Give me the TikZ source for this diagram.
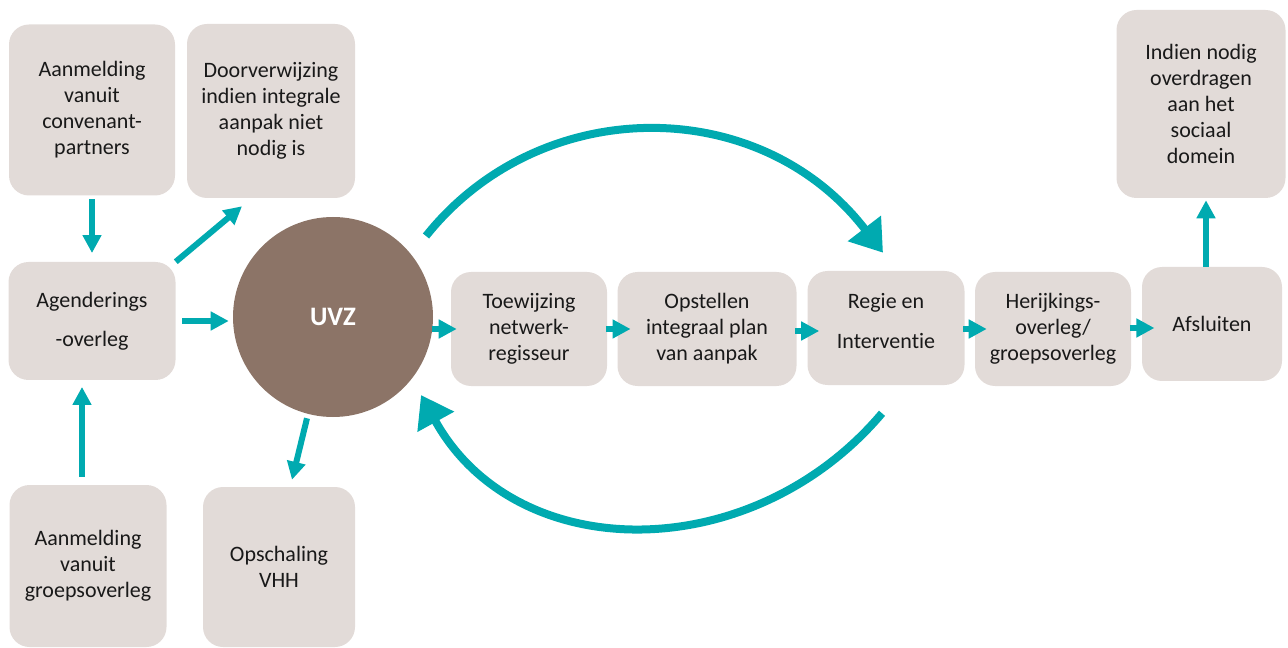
\documentclass[tikz,border=0pt]{standalone}
\usepackage{fontspec}
\setmainfont{Carlito}[Ligatures=NoCommon]
\usetikzlibrary{positioning,
                arrows.meta}                % arrow tips

\definecolor{boxgrey}{RGB}{226,219,216}
\definecolor{uvzbrown}{RGB}{140,116,103}
\definecolor{arrowteal}{RGB}{0,170,176}
\definecolor{textblack}{RGB}{25,25,25}

\tikzset{
  box/.style={fill=boxgrey, rounded corners=15pt, align=center, inner sep=0pt,
              text=textblack, font=\fontsize{16.5}{19.5}\selectfont},
  flow/.style={draw=arrowteal, line width=4.5pt, -{Triangle[length=13.5pt, width=13.5pt]}},
  bigturn/.style={draw=arrowteal, line width=6pt, -{Triangle[length=23pt, width=30pt]}},
}

\begin{document}
\begin{tikzpicture}[x=0.75pt, y=-0.75pt]
      \useasboundingbox (0,0) rectangle (1288,648);

      % left column
      \node[box, minimum width=124.5pt, minimum height=128.25pt] (aanconv) at (92,110) {Aanmelding\\vanuit\\convenant-\\partners};
      \node[box, minimum width=126pt, minimum height=130.5pt] (doorv) at (271,111) {Doorverwijzing\\indien integrale\\aanpak niet\\nodig is};
      \node[box, minimum width=125.25pt, minimum height=88.5pt] (agenda) at (92,321) {Agenderings\\[10pt]-overleg};
      \node[box, minimum width=117.75pt, minimum height=121.5pt] (aangroep) at (88,566) {Aanmelding\\vanuit\\groepsoverleg};
      \node[box, minimum width=114pt, minimum height=120pt] (opsch) at (279,567) {Opschaling\\VHH};

      \node[circle, fill=uvzbrown, minimum size=150pt, inner sep=0pt, text=white,
            font=\fontsize{20}{24}\selectfont\bfseries] (uvz) at (333,317) {UVZ};

      % main row
      \node[box, minimum width=117pt, minimum height=85.5pt] (toew) at (529,329) {Toewijzing\\netwerk-\\regisseur};
      \node[box, minimum width=134.25pt, minimum height=85.5pt] (opst) at (707,329) {Opstellen\\integraal plan\\van aanpak};
      \node[box, minimum width=117.75pt, minimum height=85.5pt] (regie) at (886,328) {Regie en\\[10pt]Interventie\\[-9pt]};
      \node[box, minimum width=117pt, minimum height=85.5pt] (herij) at (1053,329) {Herijkings-\\overleg/\\groepsoverleg};
      \node[box, minimum width=105pt, minimum height=85.5pt] (afsl) at (1212,324) {Afsluiten};
      \node[box, minimum width=126.75pt, minimum height=141pt] (indien) at (1201,104) {Indien nodig\\overdragen\\aan het\\sociaal\\domein};

      % straight arrows
      \draw[flow, shorten <=2.5pt, shorten >=6.5pt] (aanconv.south) -- (aanconv.south |- agenda.north);
      \draw[flow, shorten <=6pt, shorten >=5pt] ([shift={(-6,0)}]aangroep.north) -- ([shift={(-6,0)}]aangroep.north |- agenda.south);
      \draw[flow] (agenda.north east) -- ([shift={(-29,8)}]doorv.south);
      \draw[flow, shorten <=5pt, shorten >=3pt] (agenda.east) -- (agenda.east -| uvz.west);
      \draw[flow] ([shift={(-26,1)}]uvz.south) -- ([shift={(13,-7)}]opsch.north);
      \draw[flow, shorten <=-1pt, shorten >=-4.5pt] (uvz.east |- toew.west) -- (toew.west);
      \draw[flow, shorten <=-1pt, shorten >=-10pt] (toew.east) -- (toew.east -| opst.west);
      \draw[flow, shorten <=-1pt, shorten >=-9pt] ([shift={(0,2)}]opst.east) -- ([shift={(0,2)}]opst.east -| regie.west);
      \draw[flow, shorten <=-1pt, shorten >=-9pt] (regie.east |- herij.west) -- (herij.west);
      \draw[flow, shorten <=-1pt, shorten >=-9.5pt] ([shift={(0,4)}]afsl.west -| herij.east) -- ([shift={(0,4)}]afsl.west);
      \draw[flow, shorten >=1.5pt] ([shift={(-6,0)}]afsl.north) -- ([shift={(-6,0)}]afsl.north |- indien.south);

      % loop between UVZ and regie
      \draw[bigturn] ([shift={(93,-81)}]uvz.center) .. controls +(114,-143) and +(-123,-160) .. ([shift={(-3,-18)}]regie.north);
      \draw[bigturn] ([shift={(-4,28)}]regie.south) .. controls +(-130,154) and +(95,172) .. ([shift={(88,78)}]uvz.center);
\end{tikzpicture}
\end{document}
